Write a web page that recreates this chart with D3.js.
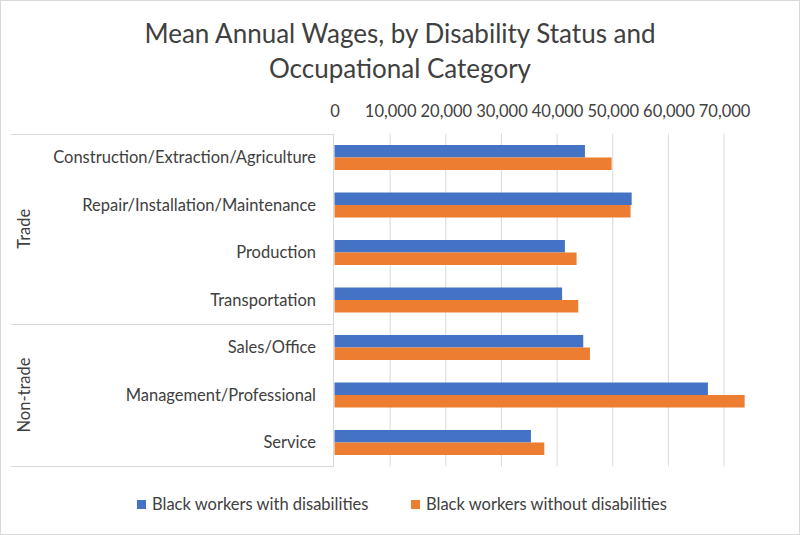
<!DOCTYPE html>
<html>
<head>
<meta charset="utf-8">
<script src="https://cdn.jsdelivr.net/npm/d3@7"></script>
<style>
  body { margin: 0; background: #fff; }
  text { font-family: Lato, "Open Sans", sans-serif; fill: #404040; }
</style>
</head>
<body>
<div id="chart"></div>
<script>
// chart data
var categories = ["Construction/Extraction/Agriculture", "Repair/Installation/Maintenance",
  "Production", "Transportation", "Sales/Office", "Management/Professional", "Service"];
var groups = ["Trade", "Trade", "Trade", "Trade", "Non-trade", "Non-trade", "Non-trade"];
var withDisabilities = [45000, 53400, 41400, 40900, 44700, 67100, 35300];
var withoutDisabilities = [49800, 53200, 43500, 43800, 45900, 73700, 37700];
var seriesNames = ["Black workers with disabilities", "Black workers without disabilities"];
var xTicks = [0, 10000, 20000, 30000, 40000, 50000, 60000, 70000];

var svgWidth = 800;
var svgHeight = 535;
var colors = ["#4472C4", "#ED7D31"];
var labelSize = "16.5px";

var plot = { left: 334.5, right: 779.7, top: 133.75, bottom: 466.25 };

var svg = d3.select("#chart")
  .append("svg")
  .attr("width", svgWidth)
  .attr("height", svgHeight);

// chart border
svg.append("rect")
  .attr("x", 0.5).attr("y", 0.5)
  .attr("width", svgWidth - 1).attr("height", svgHeight - 1)
  .attr("fill", "#fff")
  .attr("stroke", "#d9d9d9");

// title
svg.append("text")
  .attr("x", 400).attr("y", 43)
  .attr("text-anchor", "middle")
  .style("font-size", "26px")
  .text("Mean Annual Wages, by Disability Status and");
svg.append("text")
  .attr("x", 400).attr("y", 78)
  .attr("text-anchor", "middle")
  .style("font-size", "26px")
  .text("Occupational Category");

var data = categories.map((c, i) => ({
  name: c,
  group: groups[i],
  values: [withDisabilities[i], withoutDisabilities[i]]
}));

// scales
var xScale = d3.scaleLinear()
  .domain([0, 80000])
  .range([plot.left, plot.right]);

var yScale = d3.scaleBand()
  .domain(categories)
  .range([plot.top, plot.bottom])
  .paddingInner(0.4737)
  .paddingOuter(0.2368);

var ySub = d3.scaleBand()
  .domain(d3.range(seriesNames.length))
  .range([0, yScale.bandwidth()]);

// gridlines
svg.append("g")
  .selectAll("line")
  .data(xTicks.slice(1))
  .enter()
  .append("line")
  .attr("x1", d => xScale(d)).attr("x2", d => xScale(d))
  .attr("y1", plot.top).attr("y2", plot.bottom)
  .attr("stroke", "#d9d9d9")
  .attr("stroke-width", 1);

// top axis labels
var topAxis = d3.axisTop(xScale)
  .tickValues(xTicks)
  .tickSize(0)
  .tickPadding(0)
  .tickFormat(d3.format(","));

var axisG = svg.append("g")
  .attr("transform", "translate(0, 117)")
  .call(topAxis);
axisG.select(".domain").remove();
axisG.selectAll("text")
  .style("font-size", labelSize)
  .style("font-family", "Lato, 'Open Sans', sans-serif")
  .attr("fill", "#404040");

// bars
var catG = svg.append("g")
  .selectAll("g")
  .data(data)
  .enter()
  .append("g")
  .attr("transform", d => `translate(0, ${yScale(d.name)})`);

catG.selectAll("rect")
  .data(d => d.values)
  .enter()
  .append("rect")
  .attr("x", xScale(0))
  .attr("y", (d, i) => ySub(i))
  .attr("width", d => xScale(d) - xScale(0))
  .attr("height", ySub.bandwidth())
  .attr("fill", (d, i) => colors[i]);

// category axis line + group brackets
var bracketX = 11;
var axisX = 333.5;
svg.append("line")
  .attr("x1", axisX).attr("x2", axisX)
  .attr("y1", plot.top).attr("y2", plot.bottom)
  .attr("stroke", "#d9d9d9");

var groupNames = Array.from(new Set(groups));
var groupBounds = groupNames.map(g => {
  var members = categories.filter((c, i) => groups[i] === g);
  var first = yScale(members[0]) - yScale.step() * yScale.paddingInner() / 2;
  var last = yScale(members[members.length - 1]) + yScale.bandwidth() + yScale.step() * yScale.paddingInner() / 2;
  return { name: g, y0: Math.max(first, plot.top), y1: Math.min(last, plot.bottom) };
});

var edges = [plot.top].concat(groupBounds.map(d => d.y1));
svg.append("g")
  .selectAll("line")
  .data(edges)
  .enter()
  .append("line")
  .attr("x1", bracketX).attr("x2", axisX)
  .attr("y1", d => Math.round(d) + 0.5).attr("y2", d => Math.round(d) + 0.5)
  .attr("stroke", "#d9d9d9");

svg.append("g")
  .selectAll("text")
  .data(groupBounds)
  .enter()
  .append("text")
  .attr("transform", d => `translate(30, ${(d.y0 + d.y1) / 2}) rotate(-90)`)
  .attr("text-anchor", "middle")
  .style("font-size", labelSize)
  .text(d => d.name);

// category labels
svg.append("g")
  .selectAll("text")
  .data(categories)
  .enter()
  .append("text")
  .attr("x", 316)
  .attr("y", d => yScale(d) + yScale.bandwidth() / 2)
  .attr("dy", "0.35em")
  .attr("text-anchor", "end")
  .style("font-size", labelSize)
  .text(d => d);

// legend
var legendX = [137, 411];
var legend = svg.append("g")
  .selectAll("g")
  .data(seriesNames)
  .enter()
  .append("g")
  .attr("transform", (d, i) => `translate(${legendX[i]}, 500)`);

legend.append("rect")
  .attr("width", 9).attr("height", 9)
  .attr("fill", (d, i) => colors[i]);

legend.append("text")
  .attr("x", 15).attr("y", 4.5)
  .attr("dy", "0.35em")
  .style("font-size", labelSize)
  .text(d => d);
</script>
</body>
</html>
